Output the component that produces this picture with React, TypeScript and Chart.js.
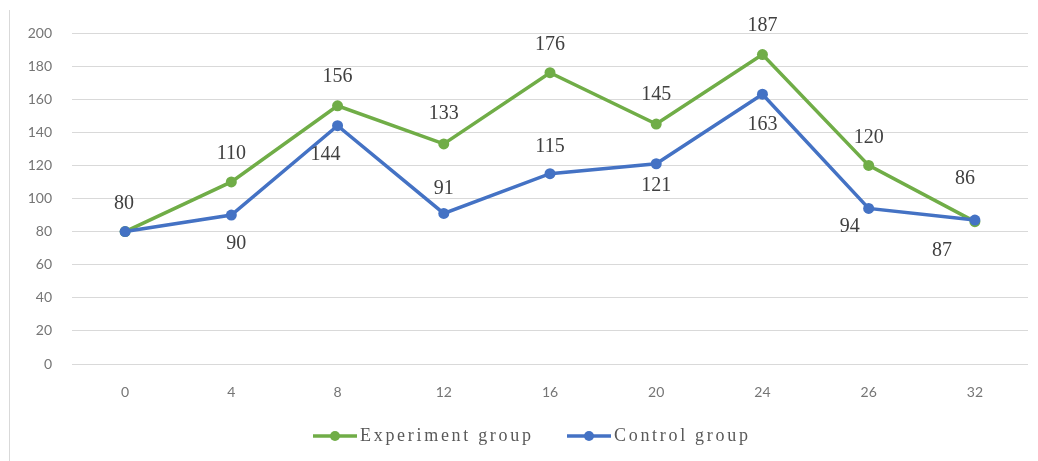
import React, { useEffect, useRef } from "react";
import { Chart, registerables } from "chart.js";

Chart.register(...registerables);

const categories = ["0", "4", "8", "12", "16", "20", "24", "26", "32"];
const experimentValues = [80, 110, 156, 133, 176, 145, 187, 120, 86];
const controlValues = [80, 90, 144, 91, 115, 121, 163, 94, 87];
const seriesNames = ["Experiment group", "Control group"];

const GREEN = "#70AD47";
const BLUE = "#4472C4";

// label placement offsets (px) relative to each point
const expLabelOffsets: [number, number][] = [
  [-1, -28], [0, -28], [0, -29], [0, -30], [0, -28], [0, -29], [0, -29], [0, -28], [-10, -43],
];
const ctrlLabelOffsets: ([number, number] | null)[] = [
  null, [5, 29], [-12, 29], [0, -25], [0, -27], [0, 22], [0, 31], [-19, 18], [-33, 31],
];

const labelPlugin = {
  id: "customLabels",
  afterDatasetsDraw(chart: any) {
    const ctx = chart.ctx;
    ctx.save();
    ctx.font = "20px 'Liberation Serif'";
    ctx.fillStyle = "#404040";
    ctx.textAlign = "center";
    ctx.textBaseline = "middle";
    const offsetsList = [expLabelOffsets, ctrlLabelOffsets];
    chart.data.datasets.forEach((ds: any, di: number) => {
      const meta = chart.getDatasetMeta(di);
      meta.data.forEach((pt: any, i: number) => {
        const off = offsetsList[di][i];
        if (!off) return;
        ctx.fillText(String(ds.data[i]), pt.x + off[0], pt.y + off[1]);
      });
    });
    ctx.restore();
  },
};

const legendPlugin = {
  id: "customLegend",
  afterDraw(chart: any) {
    const ctx = chart.ctx;
    ctx.save();
    const y = 436;
    const items = [
      { color: GREEN, x: 313, text: seriesNames[0] },
      { color: BLUE, x: 567, text: seriesNames[1] },
    ];
    items.forEach((it) => {
      ctx.strokeStyle = it.color;
      ctx.lineWidth = 3.5;
      ctx.beginPath();
      ctx.moveTo(it.x, y);
      ctx.lineTo(it.x + 44, y);
      ctx.stroke();
      ctx.fillStyle = it.color;
      ctx.beginPath();
      ctx.arc(it.x + 22, y, 5, 0, Math.PI * 2);
      ctx.fill();
      ctx.fillStyle = "#595959";
      ctx.font = "18px 'Liberation Serif'";
      (ctx as any).letterSpacing = "2.7px";
      ctx.textAlign = "left";
      ctx.textBaseline = "middle";
      ctx.fillText(it.text, it.x + 47, y);
      (ctx as any).letterSpacing = "0px";
    });
    ctx.restore();
  },
};

export default function App() {
  const ref = useRef<HTMLCanvasElement | null>(null);
  useEffect(() => {
    if (!ref.current) return;
    const chart = new Chart(ref.current, {
      type: "line",
      data: {
        labels: categories,
        datasets: [
          {
            label: seriesNames[0],
            data: experimentValues,
            borderColor: GREEN,
            backgroundColor: GREEN,
            borderWidth: 3.5,
            pointRadius: 5.5,
            pointHoverRadius: 5.5,
            pointBackgroundColor: GREEN,
            pointBorderWidth: 0,
            tension: 0,
            order: 1,
          },
          {
            label: seriesNames[1],
            data: controlValues,
            borderColor: BLUE,
            backgroundColor: BLUE,
            borderWidth: 3.5,
            pointRadius: 5.5,
            pointHoverRadius: 5.5,
            pointBackgroundColor: BLUE,
            pointBorderWidth: 0,
            tension: 0,
            order: 0,
          },
        ],
      },
      options: {
        animation: false,
        responsive: false,
        maintainAspectRatio: false,
        layout: { padding: { top: 33, right: 10, bottom: 0, left: 0 } },
        plugins: {
          legend: { display: false },
          tooltip: { enabled: false },
        },
        scales: {
          x: {
            offset: true,
            grid: { display: false, drawTicks: false, offset: true },
            border: { display: false },
            ticks: {
              color: "#757575",
              font: { family: "Lato", size: 14 },
              padding: 20,
            },
            afterFit: (s: any) => {
              s.height = 97;
            },
          },
          y: {
            min: 0,
            max: 200,
            ticks: {
              stepSize: 20,
              color: "#757575",
              font: { family: "Lato", size: 14 },
              padding: 20,
            },
            grid: { color: "#d9d9d9", lineWidth: 1, drawTicks: false },
            border: { display: false },
            afterFit: (s: any) => {
              s.width = 72;
            },
          },
        },
      },
      plugins: [labelPlugin, legendPlugin],
    });
    return () => chart.destroy();
  }, []);
  return (
    <div style={{ position: "absolute", left: 0, top: 0, width: 1038, height: 461, background: "#fff" }}>
      <div style={{ position: "absolute", left: 9, top: 10, width: 1, height: 451, background: "#d9d9d9" }} />
      <canvas ref={ref} width={1038} height={461} style={{ position: "absolute", left: 0, top: 0 }} />
    </div>
  );
}
